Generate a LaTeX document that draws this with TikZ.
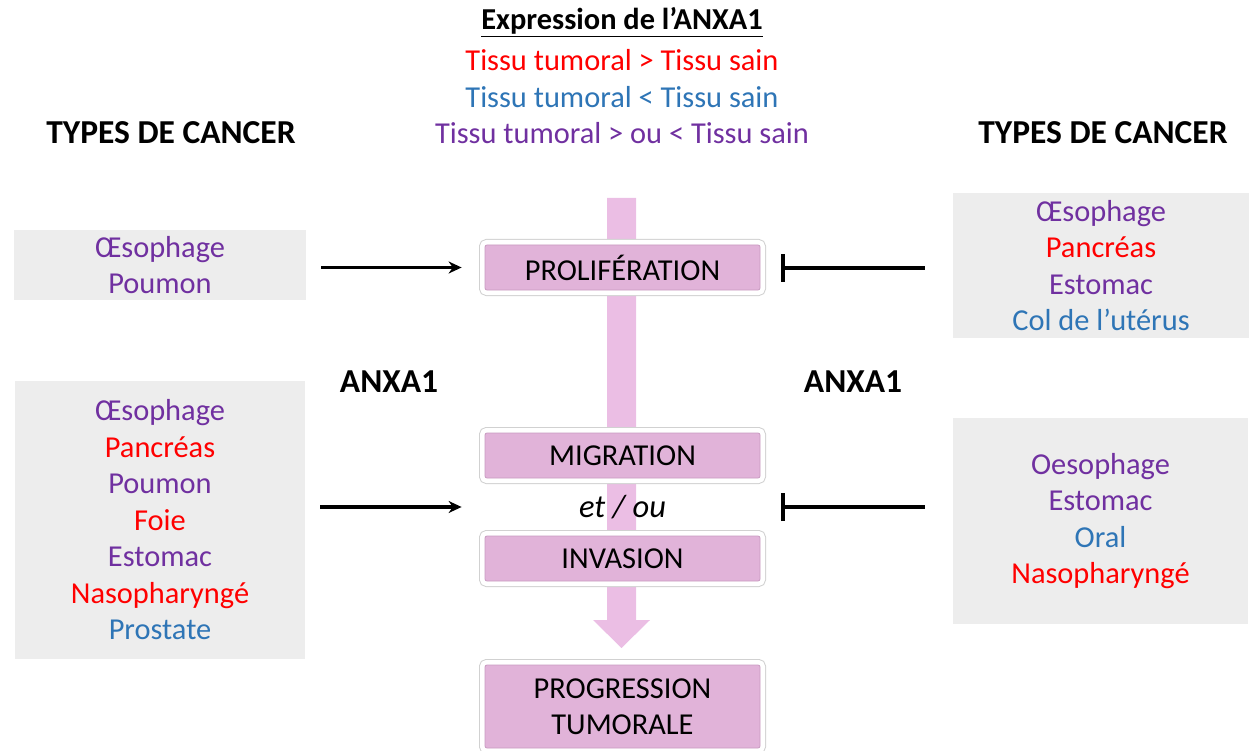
\documentclass[tikz,border=0pt]{standalone}
\usepackage{fontspec}
\setmainfont{Carlito}
\usetikzlibrary{arrows.meta,positioning}
\definecolor{crouge}{HTML}{FF0000}
\definecolor{cbleu}{HTML}{2E75B6}
\definecolor{cviolet}{HTML}{7030A0}
\definecolor{rose}{HTML}{E1B3D9}
\definecolor{roseedge}{HTML}{C99BC1}
\definecolor{rosebar}{HTML}{EBBEE4}
\definecolor{grisbox}{HTML}{EDEDED}
\newcommand\mainsize{\fontsize{30.4}{36.5}\selectfont}
\newcommand\headsize{\fontsize{33.5}{40}\selectfont}
\newcommand\ro[1]{\textcolor{crouge}{#1}}
\newcommand\bl[1]{\textcolor{cbleu}{#1}}
\newcommand\vi[1]{\textcolor{cviolet}{#1}}
\tikzset
{
    legend/.style   = {font=\mainsize, align=center, inner sep=0pt},
    heading/.style  = {font=\headsize\bfseries, align=center, inner sep=0pt},
    cancerbox/.style= {rectangle, fill=grisbox, align=center, font=\mainsize},
    stepbox/.style  = {rectangle, rounded corners=2pt, fill=rose, draw=roseedge, line width=0.8pt,
                       minimum width=275pt, minimum height=45pt, align=center, font=\mainsize,
                       preaction={draw=black!18, line width=12pt},
                       preaction={draw=white, line width=10pt}},
    activ/.style    = {line width=3.5pt, -{Stealth[length=13pt,width=12pt]}},
    inhib/.style    = {line width=4pt, -{Bar[width=28pt,line width=4pt]}}
}
\begin{document}
\begin{tikzpicture}[x=1pt, y=-1pt]
   \useasboundingbox (0,0) rectangle (1249,751);

	 % fleche centrale
	 \fill[rosebar] (607,198) -- (636,198) -- (636,620) -- (650,620) -- (621.5,648) -- (593,620) -- (607,620) -- cycle;

	 \node (expr)   [legend]  at (622, 22)   {\underline{\textbf{Expression de l’ANXA1}}};
	 \node (plus)   [legend]  at (622, 60)   {\ro{Tissu tumoral > Tissu sain}};
	 \node (moins)  [legend]  at (622, 97)   {\bl{Tissu tumoral < Tissu sain}};
	 \node (mixte)  [legend]  at (622, 133)  {\vi{Tissu tumoral > ou < Tissu sain}};

	 \node (typesl) [heading] at (171, 133)  {TYPES DE CANCER};
	 \node (typesr) [heading] at (1103, 133) {TYPES DE CANCER};
	 \node (anxl)   [heading] at (389, 382)  {ANXA1};
	 \node (anxr)   [heading] at (853, 382)  {ANXA1};

	 \node (prolif) [stepbox] at (622.5, 267.5) {PROLIFÉRATION};
	 \node (migr)   [stepbox] at (622.5, 455.5) {MIGRATION};
	 \node (etou)   [legend, font=\fontsize{32.5}{36}\selectfont]  at (622.5, 507)   {\itshape et / ou};
	 \node (inv)    [stepbox] at (622.5, 558.5) {INVASION};
	 \node (prog)   [stepbox, minimum height=83pt] at (622.5, 706.5) {PROGRESSION\\TUMORALE};

	 \node (lt) [cancerbox, minimum width=292pt, minimum height=70pt]  at (160, 265)
	      {\vi{Œsophage}\\\vi{Poumon}};
	 \node (lb) [cancerbox, minimum width=290pt, minimum height=278pt] at (160, 520)
	      {\vi{Œsophage}\\\ro{Pancréas}\\\vi{Poumon}\\\ro{Foie}\\\vi{Estomac}\\\ro{Nasopharyngé}\\\bl{Prostate}};
	 \node (rt) [cancerbox, minimum width=296pt, minimum height=144pt] at (1101, 265.5)
	      {\vi{Œsophage}\\\ro{Pancréas}\\\vi{Estomac}\\\bl{Col de l’utérus}};
	 \node (rb) [cancerbox, minimum width=295pt, minimum height=206pt] at (1100.5, 521)
	      {\vi{Oesophage}\\\vi{Estomac}\\\bl{Oral}\\\ro{Nasopharyngé}};

	 \draw[activ, shorten <=15pt, shorten >=23pt] (lt.east |- prolif) -- (prolif.west);
	 \draw[inhib, shorten <=28pt, shorten >=21pt] (rt.west |- prolif) -- (prolif.east);
	 \draw[activ, shorten <=15pt, shorten >=23pt] (lb.east |- etou)   -- (migr.west |- etou);
	 \draw[inhib, shorten <=28pt, shorten >=21pt] (rb.west |- etou)   -- (migr.east |- etou);
\end{tikzpicture}
\end{document}
